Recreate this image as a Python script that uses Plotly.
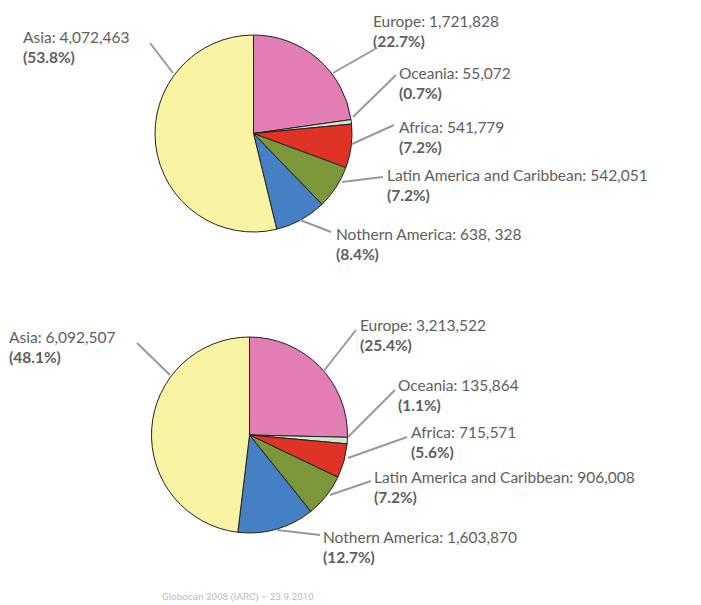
import plotly.graph_objects as go

W, H = 701, 605

regions = ["Europe", "Oceania", "Africa", "Latin America and Caribbean", "Nothern America", "Asia"]
colors = ["#E27EB3", "#CDE8D0", "#DF3326", "#7B973A", "#4580C4", "#F9F4A3"]

values_1 = [1721828, 55072, 541779, 542051, 638328, 4072463]
value_text_1 = ["1,721,828", "55,072", "541,779", "542,051", "638, 328", "4,072,463"]
values_2 = [3213522, 135864, 715571, 906008, 1603870, 6092507]
value_text_2 = ["3,213,522", "135,864", "715,571", "906,008", "1,603,870", "6,092,507"]

# layout: pie center (px), radius (px)
pies = [
    dict(values=values_1, vtext=value_text_1, cx=253.5, cy=133.5, r=98.5,
         # label text position (left x, centre y of first line), leader (outer pt, inner pt)
         labels=[(372, 21, (375, 49), (333, 73)),
                 (398, 73, (396, 75), (353, 117)),
                 (398, 127, (394, 125), (352, 144)),
                 (386, 175, (383, 177), (342, 182)),
                 (335, 234, (331, 232), (300, 220)),
                 (22, 37, (150, 43), (173, 73))]),
    dict(values=values_2, vtext=value_text_2, cx=249.5, cy=435, r=98,
         labels=[(359, 325, (356, 330), (323, 372)),
                 (397, 385, (395, 390), (348, 437)),
                 (410, 432, (407, 437), (348, 458)),
                 (373, 477, (371, 481), (330, 495)),
                 (322, 537, (320, 535), (277, 530)),
                 (8, 337, (137, 343), (170, 375))]),
]

def px(x):
    return x / W

def py(y):
    return 1 - y / H

fig = go.Figure()
annotations = []
shapes = []
for p in pies:
    fig.add_trace(go.Pie(
        labels=regions, values=p["values"], sort=False, direction="clockwise",
        rotation=0, textinfo="none", hoverinfo="label+value+percent",
        marker=dict(colors=colors, line=dict(color="#222222", width=1)),
        domain=dict(x=[px(p["cx"] - p["r"]), px(p["cx"] + p["r"])],
                    y=[py(p["cy"] + p["r"]), py(p["cy"] - p["r"])]),
        showlegend=False,
    ))
    total = sum(p["values"])
    for name, v, vt, (lx, ly, o, i) in zip(regions, p["values"], p["vtext"], p["labels"]):
        pct = 100 * v / total
        annotations.append(dict(
            xref="paper", yref="paper", x=px(lx - 1), y=py(ly + 10),
            xanchor="left", yanchor="middle", align="left", showarrow=False,
            text=f"{name}: {vt}<br><b>({pct:.1f}%)</b>",
            font=dict(family="Lato", size=15.5, color="#5E5E5E"),
        ))
        shapes.append(dict(type="line", xref="paper", yref="paper",
                           x0=px(o[0]), y0=py(o[1]), x1=px(i[0]), y1=py(i[1]),
                           line=dict(color="#999999", width=2)))

annotations.append(dict(
    xref="paper", yref="paper", x=px(238), y=py(597), xanchor="center", yanchor="middle",
    showarrow=False, text="Globocan 2008 (IARC) – 23.9.2010",
    font=dict(family="Roboto", size=9.8, color="#BBBBBB"),
))

fig.update_layout(
    width=W, height=H, margin=dict(l=0, r=0, t=0, b=0),
    paper_bgcolor="white", plot_bgcolor="white",
    annotations=annotations, shapes=shapes,
)
fig.write_html("out.html", config={"displayModeBar": False},
               post_script="document.body.style.margin='0';")
